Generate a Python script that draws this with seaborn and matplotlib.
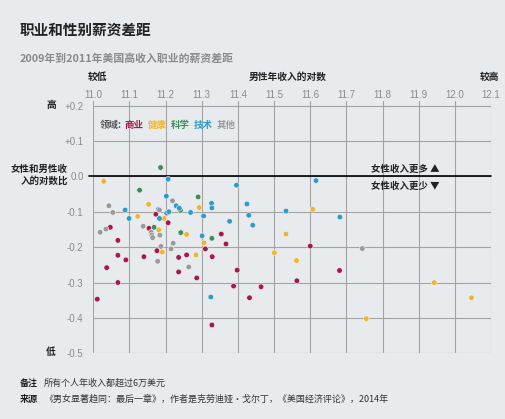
import matplotlib
matplotlib.use("Agg")
import matplotlib.pyplot as plt
import pandas as pd
import seaborn as sns

# 每个领域的数据点: 男性年收入对数 (x), 女性/男性收入对数比 (y)
biz_x = [11.173, 11.207, 11.047, 11.068, 11.154, 11.068, 11.090, 11.140, 11.176, 11.037,
         11.068, 11.011, 11.236, 11.258, 11.236, 11.286, 11.310, 11.329, 11.354, 11.367,
         11.398, 11.388, 11.328, 11.432, 11.464, 11.600, 11.681, 11.563]
biz_y = [-0.107, -0.131, -0.144, -0.181, -0.147, -0.223, -0.236, -0.227, -0.210, -0.258,
         -0.300, -0.347, -0.229, -0.222, -0.270, -0.287, -0.205, -0.227, -0.163, -0.191,
         -0.265, -0.310, -0.420, -0.343, -0.312, -0.197, -0.266, -0.295]

health_x = [11.029, 11.123, 11.153, 11.196, 11.181, 11.191, 11.293, 11.258, 11.284, 11.306,
            11.607, 11.533, 11.501, 11.562, 11.943, 12.046, 11.755]
health_y = [-0.014, -0.113, -0.079, -0.119, -0.151, -0.214, -0.088, -0.164, -0.222, -0.188,
            -0.093, -0.163, -0.216, -0.238, -0.300, -0.343, -0.402]

sci_x = [11.186, 11.128, 11.168, 11.241, 11.290, 11.242, 11.328]
sci_y = [0.025, -0.039, -0.144, -0.096, -0.058, -0.159, -0.175]

tech_x = [11.088, 11.099, 11.180, 11.183, 11.203, 11.207, 11.202, 11.229, 11.238, 11.269,
          11.305, 11.327, 11.328, 11.301, 11.377, 11.396, 11.425, 11.430, 11.441, 11.325,
          11.533, 11.616, 11.682, 11.209]
tech_y = [-0.095, -0.119, -0.093, -0.119, -0.104, -0.008, -0.056, -0.083, -0.090, -0.102,
          -0.112, -0.076, -0.089, -0.168, -0.127, -0.025, -0.078, -0.110, -0.138, -0.341,
          -0.098, -0.012, -0.115, -0.100]

other_x = [11.043, 11.054, 11.019, 11.035, 11.138, 11.160, 11.162, 11.164, 11.184, 11.187,
           11.178, 11.219, 11.221, 11.215, 11.264, 11.744, 11.183]
other_y = [-0.083, -0.102, -0.158, -0.149, -0.141, -0.158, -0.166, -0.173, -0.166, -0.198,
           -0.240, -0.069, -0.189, -0.205, -0.256, -0.204, -0.095]

fields = ["商业", "健康", "科学", "技术", "其他"]
colors = ["#a8194b", "#f0b52e", "#3e8d58", "#2d9dc8", "#9a9a9a"]

x_ticks = [11.0, 11.1, 11.2, 11.3, 11.4, 11.5, 11.6, 11.7, 11.8, 11.9, 12.0, 12.1]
y_ticks = [0.2, 0.1, 0.0, -0.1, -0.2, -0.3, -0.4, -0.5]
y_labels = ["+0.2", "+0.1", "0.0", "-0.1", "-0.2", "-0.3", "-0.4", "-0.5"]

df = pd.concat([
    pd.DataFrame({"x": biz_x, "y": biz_y, "领域": "商业"}),
    pd.DataFrame({"x": health_x, "y": health_y, "领域": "健康"}),
    pd.DataFrame({"x": sci_x, "y": sci_y, "领域": "科学"}),
    pd.DataFrame({"x": tech_x, "y": tech_y, "领域": "技术"}),
    pd.DataFrame({"x": other_x, "y": other_y, "领域": "其他"}),
], ignore_index=True)

sns.set_style("white")
plt.rcParams['font.family'] = ['Noto Sans CJK SC', 'DejaVu Sans']

W, H = 506, 419
bg = "#e8ebee"
fig = plt.figure(figsize=(W / 100, H / 100), dpi=100, facecolor=bg)
ax = fig.add_axes([93.3 / W, 1 - 353.3 / H, (491 - 93.3) / W, (353.3 - 101) / H])
ax.set_facecolor(bg)

sns.scatterplot(data=df, x="x", y="y", hue="领域", hue_order=fields,
                palette=dict(zip(fields, colors)), s=16, edgecolor="#f4f5f6",
                linewidth=0.4, legend=False, ax=ax, zorder=3)

ax.set_xlim(11.0, 12.1)
ax.set_ylim(-0.5, 0.213)
ax.set_xticks(x_ticks)
ax.set_yticks(y_ticks)
ax.set_yticklabels(y_labels)
ax.xaxis.tick_top()
ax.set_xticklabels([f"{t:.1f}" for t in x_ticks])
ax.grid(True, color="#a3a3a3", lw=0.8)
ax.set_axisbelow(True)
for s in ax.spines.values():
    s.set_visible(False)
ax.tick_params(axis="x", length=0, pad=0.5, labelsize=7, colors="#8a8a8a")
ax.tick_params(axis="y", length=5, width=0.8, pad=2, labelsize=7, colors="#8a8a8a")
ax.tick_params(axis="y", color="#a3a3a3")
for lab in ax.get_xticklabels() + ax.get_yticklabels():
    lab.set_family(['Liberation Sans', 'DejaVu Sans'])
ax.set_xlabel("")
ax.set_ylabel("")
ax.axhline(0, color="black", lw=1.2, xmin=-0.01, clip_on=False, zorder=2)


def fp(x, y):
    return x / W, 1 - y / H


dark = "#222222"
fig.text(*fp(20, 30), "职业和性别薪资差距", fontsize=10.5, fontweight="bold",
         color=dark, va="center")
fig.text(*fp(20, 58), "2009年到2011年美国高收入职业的薪资差距", fontsize=7.8,
         fontweight="bold", color="#8a8a8a", va="center")
fig.text(*fp(97, 77), "较低", fontsize=7, fontweight="bold", color=dark,
         ha="center", va="center")
fig.text(*fp(288, 77), "男性年收入的对数", fontsize=7, fontweight="bold", color=dark,
         ha="center", va="center")
fig.text(*fp(489, 77), "较高", fontsize=7, fontweight="bold", color=dark,
         ha="center", va="center")
fig.text(*fp(51, 105), "高", fontsize=7, fontweight="bold", color=dark,
         ha="center", va="center")
fig.text(*fp(51, 352), "低", fontsize=7, fontweight="bold", color=dark,
         ha="center", va="center")
fig.text(*fp(68, 175), "女性和男性收\n入的对数比", fontsize=6.8, fontweight="bold",
         color=dark, ha="right", va="center", linespacing=1.15)
fig.text(*fp(440, 169), "女性收入更多 ▲", fontsize=6.8, fontweight="bold",
         color=dark, ha="right", va="center")
fig.text(*fp(440, 186), "女性收入更少 ▼", fontsize=6.8, fontweight="bold",
         color=dark, ha="right", va="center")

# 图例 (彩色文字)
lx = 100
t = fig.text(*fp(lx, 125), "领域:", fontsize=6.8, fontweight="bold",
             color="#555555", va="center")
fig.canvas.draw()
r = fig.canvas.get_renderer()
lx = t.get_window_extent(r).x1 + 3
for name, c in zip(fields, colors):
    t = fig.text(lx / W, 1 - 125 / H, name, fontsize=6.8, fontweight="bold",
                 color=c, va="center")
    lx = t.get_window_extent(r).x1 + 4

fig.text(*fp(20, 383), "备注", fontsize=6.5, fontweight="bold", color=dark, va="center")
fig.text(*fp(44, 383), "所有个人年收入都超过6万美元", fontsize=6.5, color="#333333",
         va="center")
fig.text(*fp(20, 399), "来源", fontsize=6.5, fontweight="bold", color=dark, va="center")
fig.text(*fp(44, 399), "《男女显著趋同：最后一章》，作者是克劳迪娅·戈尔丁，《美国经济评论》，2014年",
         fontsize=6.5, color="#333333", va="center")

fig.savefig("out.png", dpi=100, facecolor=bg)
